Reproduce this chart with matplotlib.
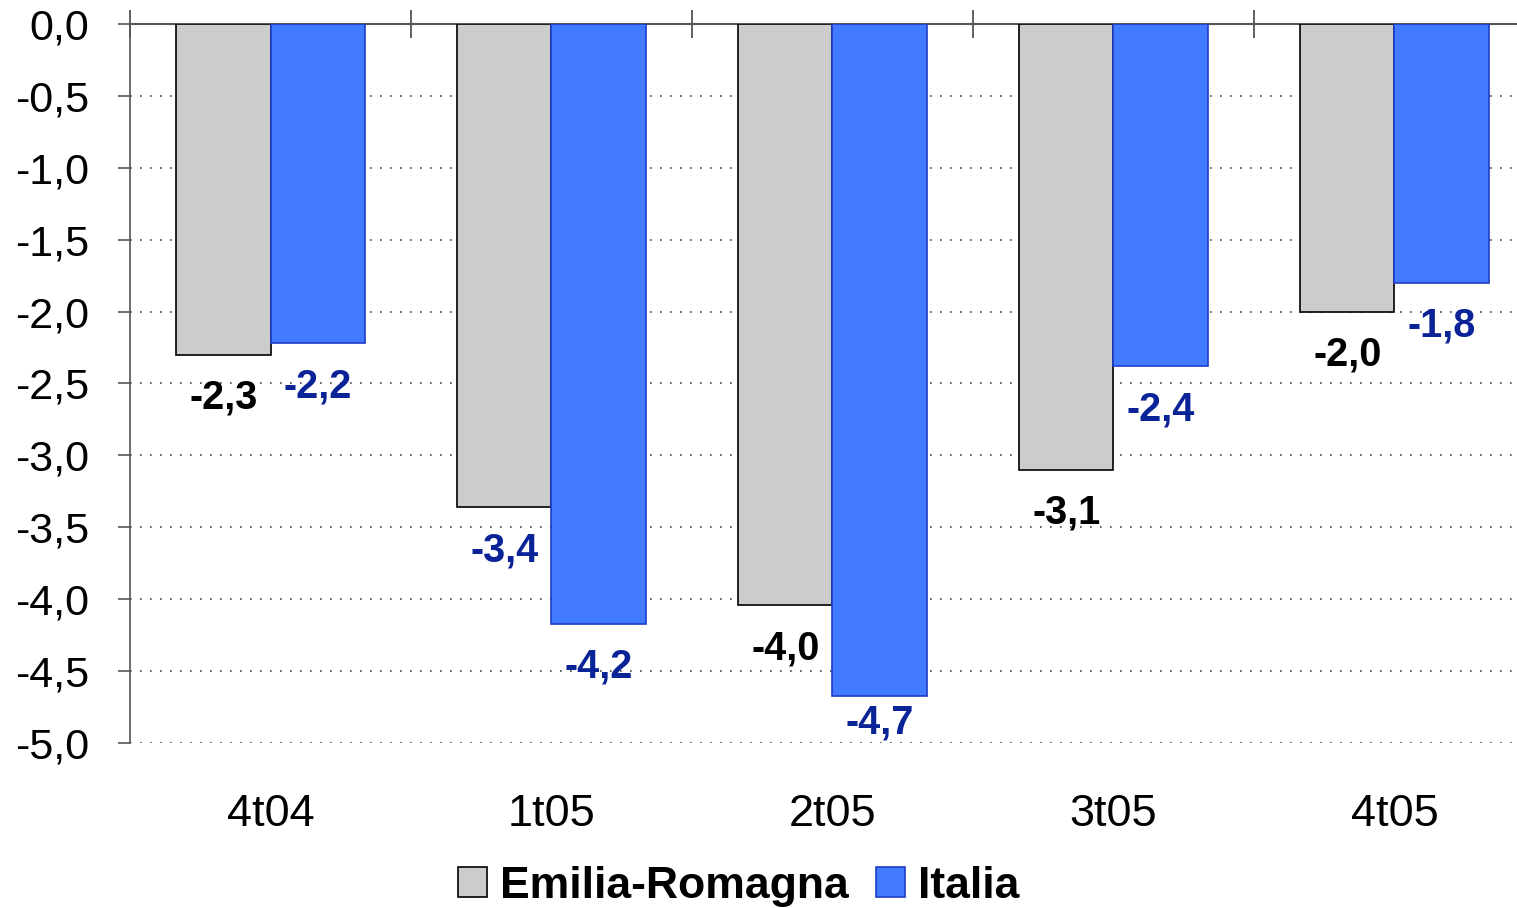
import numpy as np
import matplotlib.pyplot as plt

plt.rcParams["font.family"] = ["Liberation Sans", "DejaVu Sans"]

periodi = ["4t04", "1t05", "2t05", "3t05", "4t05"]
emilia = [-2.30, -3.36, -4.04, -3.10, -2.00]
italia = [-2.22, -4.17, -4.67, -2.38, -1.80]
# colore delle etichette (nel grafico originale quella di 1t05 E-R è blu)
col_emilia = ["black", "#0a2396", "black", "black", "black"]
col_italia = "#0a2396"

fig = plt.figure(figsize=(15.17, 9.08), dpi=100)
ax = fig.add_axes([0.0857, 0.1817, 0.9143, 0.7919])

x = np.arange(len(periodi))
w = 0.335
b1 = ax.bar(x - w / 2, emilia, w, color="#cccccc", edgecolor="black", linewidth=1.2,
            label="Emilia-Romagna", zorder=3)
b2 = ax.bar(x + w / 2, italia, w, color="#427bff", edgecolor="#1e3cc8", linewidth=1.2,
            label="Italia", zorder=3)

def etichetta(v):
    return f"{v:.1f}".replace(".", ",")

# etichette sotto le barre, ma non fuori dall'area del grafico (come in Excel)
def pos_y(v):
    return max(v - 0.3, -4.86)

for xi, v, c in zip(x - w / 2, emilia, col_emilia):
    ax.text(xi, pos_y(v), etichetta(v), ha="center", va="center", fontsize=28.5,
            fontweight="bold", color=c, zorder=4)
for xi, v in zip(x + w / 2, italia):
    ax.text(xi, pos_y(v), etichetta(v), ha="center", va="center", fontsize=28.5,
            fontweight="bold", color=col_italia, zorder=4)

ax.set_ylim(-5, 0)
ax.set_xlim(-0.5, 4.436)
yt = np.arange(0, -5.01, -0.5)
ax.set_yticks(yt)
ax.set_yticklabels([etichetta(v) for v in yt], fontsize=31)
for v in yt[1:]:
    ax.axhline(v, color="#444444", linestyle=(0, (1, 5)), linewidth=1.2, zorder=1)

ax.set_xticks(x)
ax.set_xticklabels(periodi, fontsize=32.5)
ax.set_xticks(np.arange(-0.5, 4.5, 1), minor=True)
ax.tick_params(axis="x", which="major", bottom=True, top=False, length=0, pad=37)
ax.tick_params(axis="x", which="minor", bottom=False, top=True, direction="inout",
               length=20, width=1.2, color="#444444")
ax.tick_params(axis="y", which="major", direction="out", length=8.6, width=1.2,
               color="#555555", pad=21)

for s in ["bottom", "right"]:
    ax.spines[s].set_visible(False)
ax.spines["top"].set_color("#555555")
ax.spines["top"].set_linewidth(1.5)
ax.spines["left"].set_color("#555555")
ax.spines["left"].set_linewidth(1.2)

fig.legend(handles=[b1, b2], loc="center", bbox_to_anchor=(0.487, 0.024), ncol=2,
           frameon=False, prop={"size": 32, "weight": "bold"}, handlelength=0.65,
           handleheight=0.65, handletextpad=0.3, columnspacing=0.6)

fig.savefig("out.png", dpi=100)
